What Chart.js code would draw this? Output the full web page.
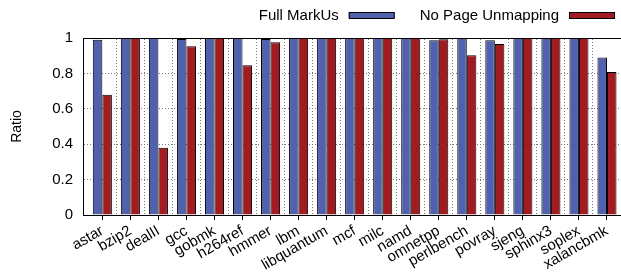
<!DOCTYPE html>
<html>
<head>
<meta charset="utf-8">
<script src="https://cdn.jsdelivr.net/npm/chart.js@4"></script>
<style>
  html, body { margin: 0; padding: 0; background: #fff; }
  #wrap { width: 621px; height: 273px; }
</style>
</head>
<body>
<div id="wrap"><canvas id="chart"></canvas></div>
<script>
//benchmarks along the x axis
const benchmarks = ['astar', 'bzip2', 'dealII', 'gcc', 'gobmk', 'h264ref', 'hmmer', 'lbm',
  'libquantum', 'mcf', 'milc', 'namd', 'omnetpp', 'perlbench', 'povray', 'sjeng',
  'sphinx3', 'soplex', 'xalancbmk'];

//ratio values
const fullMarkUs = [0.99, 1, 1, 0.995, 1, 1, 0.995, 1, 1, 1, 1, 1, 0.987, 1, 0.987, 1, 1, 1, 0.89];
const noPageUnmapping = [0.68, 1, 0.38, 0.953, 1, 0.846, 0.976, 1, 1, 1, 1, 1, 0.993, 0.902, 0.966, 1, 1, 1, 0.808];

const yTickLabels = ['0', '0.2', '0.4', '0.6', '0.8', '1'];

const FONT = '"Liberation Sans", Arial, Helvetica, sans-serif';
Chart.defaults.font.family = FONT;
Chart.defaults.color = '#000';

const xMin = -0.69, xMax = 18.5;

//bars sit on a linear axis so the range can start left of the first group
const toPoints = vals => vals.map((v, i) => ({ x: i, y: v }));

//gnuplot style key: text first, swatch after it, right aligned
const keyPlugin = {
  id: 'gnuKey',
  afterDraw(chart) {
    const ctx = chart.ctx;
    const sets = chart.data.datasets;
    let right = 615;
    ctx.save();
    ctx.font = '15px ' + FONT;
    ctx.textBaseline = 'middle';
    ctx.textAlign = 'right';
    for (let i = sets.length - 1; i >= 0; i--) {
      const ds = sets[i];
      //swatch
      ctx.fillStyle = ds.backgroundColor;
      ctx.fillRect(right - 46, 12, 46, 6);
      ctx.strokeStyle = '#000';
      ctx.lineWidth = 1;
      ctx.strokeRect(right - 46 + 0.5, 12 + 0.5, 45, 6);
      //label
      ctx.fillStyle = '#000';
      ctx.fillText(ds.label, right - 46 - 10, 16);
      right -= 46 + 10 + ctx.measureText(ds.label).width + 25;
    }
    ctx.restore();
  }
};

new Chart(document.getElementById('chart'), {
  type: 'bar',
  data: {
    datasets: [
      {
        label: 'Full MarkUs',
        data: toPoints(fullMarkUs),
        backgroundColor: '#5161ae',
        borderColor: '#000',
        borderWidth: 1,
        categoryPercentage: 0.68,
        barPercentage: 1.0
      },
      {
        label: 'No Page Unmapping',
        data: toPoints(noPageUnmapping),
        backgroundColor: '#a11b21',
        borderColor: '#000',
        borderWidth: 1,
        categoryPercentage: 0.68,
        barPercentage: 1.0
      }
    ]
  },
  plugins: [keyPlugin],
  options: {
    responsive: true,
    maintainAspectRatio: false,
    animation: false,
    layout: { padding: { left: 0, right: 0, top: 38, bottom: 0 } },
    plugins: {
      legend: { display: false },
      tooltip: { enabled: false }
    },
    scales: {
      x: {
        type: 'linear',
        position: 'bottom',
        offset: false,
        min: xMin,
        max: xMax,
        afterBuildTicks: scale => {
          scale.ticks = benchmarks.map((b, i) => ({ value: i }));
        },
        afterFit: scale => { scale.height = 58; },
        ticks: {
          autoSkip: false,
          minRotation: 30,
          maxRotation: 30,
          padding: 2,
          font: { size: 15 },
          callback: v => benchmarks[v]
        },
        grid: { drawOnChartArea: false, tickLength: 5, color: '#000', offset: false },
        border: { color: '#000', width: 1 }
      },
      //dotted separators between groups + top frame line
      xg: {
        type: 'linear',
        position: 'top',
        offset: false,
        min: xMin,
        max: xMax,
        afterBuildTicks: scale => {
          scale.ticks = benchmarks.slice(1).map((b, i) => ({ value: i + 0.5 }));
        },
        afterFit: scale => { scale.height = 0; },
        ticks: { display: false },
        grid: { color: '#777', drawTicks: false, offset: false },
        border: { color: '#000', width: 1, dash: [1, 2] }
      },
      y: {
        min: 0,
        max: 1,
        afterBuildTicks: scale => {
          scale.ticks = yTickLabels.map((t, i) => ({ value: i * 0.2 }));
        },
        afterFit: scale => { scale.width = 83; },
        ticks: {
          padding: 10,
          font: { size: 15 },
          callback: (v, i) => yTickLabels[i]
        },
        title: {
          display: true,
          text: 'Ratio',
          font: { size: 14 },
          padding: { top: 9, bottom: 0 }
        },
        grid: { color: '#777', drawTicks: false },
        border: { color: '#000', width: 1, dash: [1, 2] }
      }
    }
  }
});
</script>
</body>
</html>
